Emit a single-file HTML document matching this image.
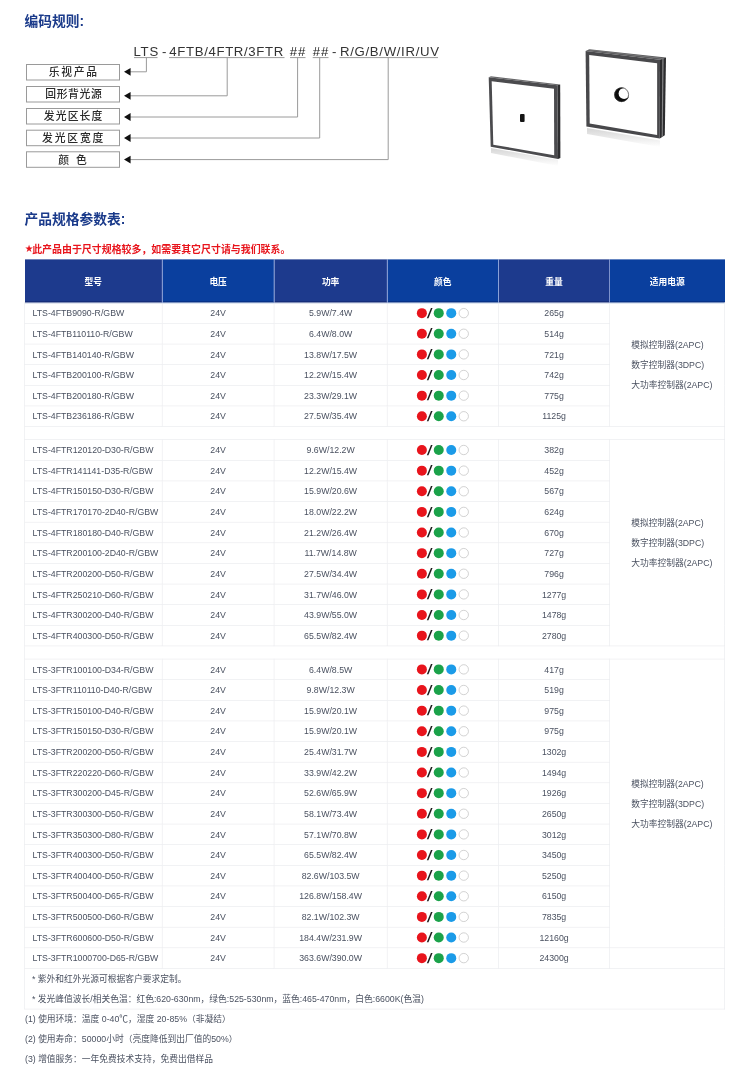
<!DOCTYPE html>
<html lang="zh-CN">
<head>
<meta charset="utf-8">
<title>LTS 回形背光源 产品规格参数表</title>
<style>
html,body{margin:0;padding:0;background:#fff;}
body{width:750px;height:1079px;overflow:hidden;position:relative;font-family:"Liberation Sans","Noto Sans CJK SC",sans-serif;}
#top{position:absolute;left:0;top:0;width:750px;height:200px;}
#top text{font-family:"Liberation Sans","Noto Sans CJK SC",sans-serif;}
#page{position:absolute;left:0;top:0;width:1200px;height:1727px;transform:scale(0.625);transform-origin:0 0;}
.h1{position:absolute;left:39px;font-size:22px;font-weight:bold;color:#1a3a8a;line-height:26px;white-space:nowrap;margin:0;}
.red{position:absolute;left:40px;top:385.5px;font-size:15.9px;font-weight:bold;color:#e8141c;line-height:24px;white-space:nowrap;margin:0;}
table.spec{position:absolute;left:39px;top:415px;width:1120px;border-collapse:collapse;table-layout:fixed;font-size:14px;color:#4a5160;}
table.spec th{height:69px;padding:0;color:#fff;font-size:14px;font-weight:bold;border-left:1px solid #b9c8f2;text-align:center;}
table.spec th:first-child{border-left:none;}
table.spec th{box-shadow:inset 0 -2px 0 rgba(0,0,50,0.28);}
table.spec th:nth-child(odd){background:#1d3a8d;}
table.spec th:nth-child(even){background:#0a3f9e;}
table.spec td{height:32px;padding:0;border:1px solid #e9eaed;line-height:16px;}
td.m{padding-left:12px !important;text-align:left;}
td.c{text-align:center;}
tr.sp td{height:20px;}
tr.notes td{height:64px;padding-left:11px;}
tr.notes p{margin:0;line-height:32px;}
td.psu{text-align:left !important;padding-left:34px !important;}
td.psu p{margin:0;line-height:32px;font-size:14px;}
.dots{display:inline-block;white-space:nowrap;vertical-align:middle;font-size:0;position:relative;left:-0.5px;top:-1px;}
.d{display:inline-block;width:16px;height:16px;border-radius:50%;vertical-align:middle;box-sizing:border-box;}
.d.r{background:#e8141c;position:relative;left:0.8px;}
.d.g{background:#1ba24a;margin-left:0;}
.d.b{background:#1b9be8;margin-left:4px;}
.d.w{background:#fff;border:1.5px solid #b9b9b9;margin-left:4px;}
.sl{display:inline-block;font-size:22px;font-weight:bold;color:#1a1a1a;vertical-align:middle;width:12px;text-align:center;line-height:16px;transform:skewX(-12deg) translate(-0.5px,0.5px);}
.star{display:inline-block;font-size:13px;width:11.5px;vertical-align:2px;}
.foot{position:absolute;left:40px;font-size:14px;color:#4a5160;line-height:20px;white-space:nowrap;margin:0;}
</style>
</head>
<body>
<svg id="top" viewBox="0 0 750 200">
<!-- coding diagram -->
<g fill="none" stroke="#9a9a9a" stroke-width="1">
<rect x="26.5" y="64.5" width="93" height="15.5" fill="#fff"/>
<rect x="26.5" y="86.5" width="93" height="15.5" fill="#fff"/>
<rect x="26.5" y="108.5" width="93" height="15.5" fill="#fff"/>
<rect x="26.5" y="130.2" width="93" height="15.5" fill="#fff"/>
<rect x="26.5" y="151.8" width="93" height="15.5" fill="#fff"/>
<path d="M134 57.6H157.5M169 57.6H284.5M290 57.6H305.5M312.7 57.6H328.5M339.5 57.6H438"/>
<path d="M146.4 57.6V71.8H130M227.2 57.6V95.8H130M297.6 57.6V117H130M319.7 57.6V138H130M388.2 57.6V159.6H130"/>
</g>
<g fill="#111">
<path d="M124 71.8l6.6-3.9v7.8zM124 95.8l6.6-3.9v7.8zM124 117l6.6-3.9v7.8zM124 138l6.6-3.9v7.8zM124 159.6l6.6-3.9v7.8z"/>
</g>
<g font-size="13.2" fill="#333" letter-spacing="0.75">
<text x="133.5" y="55.9">LTS</text>
<text x="162" y="55.9">-</text>
<text x="169.3" y="55.9" letter-spacing="0.65">4FTB/4FTR/3FTR</text>
<text x="289.8" y="55.9" fill="#1a1a1a">##</text>
<text x="312.8" y="55.9" fill="#1a1a1a">##</text>
<text x="332" y="55.9">-</text>
<text x="340" y="55.9" letter-spacing="0.68">R/G/B/W/IR/UV</text>
</g>
<g font-size="10.8" fill="#2a2a2a" font-weight="500" text-anchor="middle">
<text x="73.7" y="76.2" letter-spacing="1.7">乐视产品</text>
<text x="73.8" y="98.2" letter-spacing="0.6">回形背光源</text>
<text x="73.6" y="120.2" letter-spacing="1.1">发光区长度</text>
<text x="73.6" y="141.8" letter-spacing="1.8">发光区宽度</text>
<text x="76" y="163.5" letter-spacing="7">颜色</text>
</g>
<!-- product images -->
<defs>
<linearGradient id="refl" x1="0" y1="0" x2="0" y2="1"><stop offset="0" stop-color="#c4c4c4"/><stop offset="1" stop-color="#ffffff"/></linearGradient>
</defs>
<g>
<polygon points="491,148 558,160 558,166 491,153" fill="url(#refl)" opacity="0.7"/>
<polygon points="488.7,77.3 491,76.2 560.2,84.4 557.3,85.3" fill="#6a6a6c"/>
<polygon points="557.3,85.3 560.2,84.4 560.4,158 558,158.9" fill="#2e2e30"/>
<polygon points="488.7,77.3 557.3,85.3 558,158.9 490.7,146.7" fill="#4b4b4e"/>
<polygon points="491.7,81.3 554,88.7 554.2,155.3 493.3,144.7" fill="#fff"/>
<rect x="520" y="114" width="4.6" height="8" rx="1" fill="#151515"/>
</g>
<g>
<polygon points="587,128 660,140.5 660,147 587,134" fill="url(#refl)" opacity="0.7"/>
<polygon points="585.6,51 589.5,49.2 666,57.6 660,59.8" fill="#5c5c5e"/>
<polygon points="587.6,50.1 588.4,49.7 664,58.3 663,58.7" fill="#8a8a8c"/>
<polygon points="660,59.8 666,57.6 664.8,135.3 659.8,138.6" fill="#2c2c2e"/>
<polygon points="662.3,59 663.6,58.5 662.8,136.6 661.7,137.3" fill="#858587"/>
<polygon points="585.6,51 660,59.8 659.8,138.6 586.4,126.5" fill="#48484b"/>
<polygon points="589.2,55.1 657.1,63.2 657.1,135 589.7,123.6" fill="#fff"/>
<circle cx="621.6" cy="94.7" r="7.3" fill="#0d0d0d"/>
<circle cx="624.1" cy="93.4" r="5.5" fill="#fff"/>
<circle cx="621.6" cy="94.7" r="7" fill="none" stroke="#3a3a3a" stroke-width="0.7"/>
</g>
</svg>
<div id="page">
<p class="h1" style="top:21.5px">编码规则:</p>
<p class="h1" style="top:337.5px">产品规格参数表:</p>
<p class="red"><span class="star">★</span>此产品由于尺寸规格较多，如需要其它尺寸请与我们联系。</p>
<table class="spec" cellspacing="0" cellpadding="0">
<colgroup><col style="width:220px"><col style="width:179px"><col style="width:181px"><col style="width:178px"><col style="width:178px"><col style="width:184px"></colgroup>
<thead><tr><th>型号</th><th>电压</th><th>功率</th><th>颜色</th><th>重量</th><th>适用电源</th></tr></thead>
<tbody>
<tr><td class="m">LTS-4FTB9090-R/GBW</td><td class="c">24V</td><td class="c">5.9W/7.4W</td><td class="c"><span class="dots"><i class="d r"></i><b class="sl">/</b><i class="d g"></i><i class="d b"></i><i class="d w"></i></span></td><td class="c">265g</td><td class="c psu" rowspan="6"><p>模拟控制器(2APC)</p><p>数字控制器(3DPC)</p><p>大功率控制器(2APC)</p></td></tr>
<tr><td class="m">LTS-4FTB110110-R/GBW</td><td class="c">24V</td><td class="c">6.4W/8.0W</td><td class="c"><span class="dots"><i class="d r"></i><b class="sl">/</b><i class="d g"></i><i class="d b"></i><i class="d w"></i></span></td><td class="c">514g</td></tr>
<tr><td class="m">LTS-4FTB140140-R/GBW</td><td class="c">24V</td><td class="c">13.8W/17.5W</td><td class="c"><span class="dots"><i class="d r"></i><b class="sl">/</b><i class="d g"></i><i class="d b"></i><i class="d w"></i></span></td><td class="c">721g</td></tr>
<tr><td class="m">LTS-4FTB200100-R/GBW</td><td class="c">24V</td><td class="c">12.2W/15.4W</td><td class="c"><span class="dots"><i class="d r"></i><b class="sl">/</b><i class="d g"></i><i class="d b"></i><i class="d w"></i></span></td><td class="c">742g</td></tr>
<tr><td class="m">LTS-4FTB200180-R/GBW</td><td class="c">24V</td><td class="c">23.3W/29.1W</td><td class="c"><span class="dots"><i class="d r"></i><b class="sl">/</b><i class="d g"></i><i class="d b"></i><i class="d w"></i></span></td><td class="c">775g</td></tr>
<tr><td class="m">LTS-4FTB236186-R/GBW</td><td class="c">24V</td><td class="c">27.5W/35.4W</td><td class="c"><span class="dots"><i class="d r"></i><b class="sl">/</b><i class="d g"></i><i class="d b"></i><i class="d w"></i></span></td><td class="c">1125g</td></tr>
<tr class="sp"><td colspan="6"></td></tr>
<tr><td class="m">LTS-4FTR120120-D30-R/GBW</td><td class="c">24V</td><td class="c">9.6W/12.2W</td><td class="c"><span class="dots"><i class="d r"></i><b class="sl">/</b><i class="d g"></i><i class="d b"></i><i class="d w"></i></span></td><td class="c">382g</td><td class="c psu" rowspan="10"><p>模拟控制器(2APC)</p><p>数字控制器(3DPC)</p><p>大功率控制器(2APC)</p></td></tr>
<tr><td class="m">LTS-4FTR141141-D35-R/GBW</td><td class="c">24V</td><td class="c">12.2W/15.4W</td><td class="c"><span class="dots"><i class="d r"></i><b class="sl">/</b><i class="d g"></i><i class="d b"></i><i class="d w"></i></span></td><td class="c">452g</td></tr>
<tr><td class="m">LTS-4FTR150150-D30-R/GBW</td><td class="c">24V</td><td class="c">15.9W/20.6W</td><td class="c"><span class="dots"><i class="d r"></i><b class="sl">/</b><i class="d g"></i><i class="d b"></i><i class="d w"></i></span></td><td class="c">567g</td></tr>
<tr><td class="m">LTS-4FTR170170-2D40-R/GBW</td><td class="c">24V</td><td class="c">18.0W/22.2W</td><td class="c"><span class="dots"><i class="d r"></i><b class="sl">/</b><i class="d g"></i><i class="d b"></i><i class="d w"></i></span></td><td class="c">624g</td></tr>
<tr><td class="m">LTS-4FTR180180-D40-R/GBW</td><td class="c">24V</td><td class="c">21.2W/26.4W</td><td class="c"><span class="dots"><i class="d r"></i><b class="sl">/</b><i class="d g"></i><i class="d b"></i><i class="d w"></i></span></td><td class="c">670g</td></tr>
<tr><td class="m">LTS-4FTR200100-2D40-R/GBW</td><td class="c">24V</td><td class="c">11.7W/14.8W</td><td class="c"><span class="dots"><i class="d r"></i><b class="sl">/</b><i class="d g"></i><i class="d b"></i><i class="d w"></i></span></td><td class="c">727g</td></tr>
<tr><td class="m">LTS-4FTR200200-D50-R/GBW</td><td class="c">24V</td><td class="c">27.5W/34.4W</td><td class="c"><span class="dots"><i class="d r"></i><b class="sl">/</b><i class="d g"></i><i class="d b"></i><i class="d w"></i></span></td><td class="c">796g</td></tr>
<tr><td class="m">LTS-4FTR250210-D60-R/GBW</td><td class="c">24V</td><td class="c">31.7W/46.0W</td><td class="c"><span class="dots"><i class="d r"></i><b class="sl">/</b><i class="d g"></i><i class="d b"></i><i class="d w"></i></span></td><td class="c">1277g</td></tr>
<tr><td class="m">LTS-4FTR300200-D40-R/GBW</td><td class="c">24V</td><td class="c">43.9W/55.0W</td><td class="c"><span class="dots"><i class="d r"></i><b class="sl">/</b><i class="d g"></i><i class="d b"></i><i class="d w"></i></span></td><td class="c">1478g</td></tr>
<tr><td class="m">LTS-4FTR400300-D50-R/GBW</td><td class="c">24V</td><td class="c">65.5W/82.4W</td><td class="c"><span class="dots"><i class="d r"></i><b class="sl">/</b><i class="d g"></i><i class="d b"></i><i class="d w"></i></span></td><td class="c">2780g</td></tr>
<tr class="sp"><td colspan="6"></td></tr>
<tr><td class="m">LTS-3FTR100100-D34-R/GBW</td><td class="c">24V</td><td class="c">6.4W/8.5W</td><td class="c"><span class="dots"><i class="d r"></i><b class="sl">/</b><i class="d g"></i><i class="d b"></i><i class="d w"></i></span></td><td class="c">417g</td><td class="c psu" rowspan="14"><p>模拟控制器(2APC)</p><p>数字控制器(3DPC)</p><p>大功率控制器(2APC)</p></td></tr>
<tr><td class="m">LTS-3FTR110110-D40-R/GBW</td><td class="c">24V</td><td class="c">9.8W/12.3W</td><td class="c"><span class="dots"><i class="d r"></i><b class="sl">/</b><i class="d g"></i><i class="d b"></i><i class="d w"></i></span></td><td class="c">519g</td></tr>
<tr><td class="m">LTS-3FTR150100-D40-R/GBW</td><td class="c">24V</td><td class="c">15.9W/20.1W</td><td class="c"><span class="dots"><i class="d r"></i><b class="sl">/</b><i class="d g"></i><i class="d b"></i><i class="d w"></i></span></td><td class="c">975g</td></tr>
<tr><td class="m">LTS-3FTR150150-D30-R/GBW</td><td class="c">24V</td><td class="c">15.9W/20.1W</td><td class="c"><span class="dots"><i class="d r"></i><b class="sl">/</b><i class="d g"></i><i class="d b"></i><i class="d w"></i></span></td><td class="c">975g</td></tr>
<tr><td class="m">LTS-3FTR200200-D50-R/GBW</td><td class="c">24V</td><td class="c">25.4W/31.7W</td><td class="c"><span class="dots"><i class="d r"></i><b class="sl">/</b><i class="d g"></i><i class="d b"></i><i class="d w"></i></span></td><td class="c">1302g</td></tr>
<tr><td class="m">LTS-3FTR220220-D60-R/GBW</td><td class="c">24V</td><td class="c">33.9W/42.2W</td><td class="c"><span class="dots"><i class="d r"></i><b class="sl">/</b><i class="d g"></i><i class="d b"></i><i class="d w"></i></span></td><td class="c">1494g</td></tr>
<tr><td class="m">LTS-3FTR300200-D45-R/GBW</td><td class="c">24V</td><td class="c">52.6W/65.9W</td><td class="c"><span class="dots"><i class="d r"></i><b class="sl">/</b><i class="d g"></i><i class="d b"></i><i class="d w"></i></span></td><td class="c">1926g</td></tr>
<tr><td class="m">LTS-3FTR300300-D50-R/GBW</td><td class="c">24V</td><td class="c">58.1W/73.4W</td><td class="c"><span class="dots"><i class="d r"></i><b class="sl">/</b><i class="d g"></i><i class="d b"></i><i class="d w"></i></span></td><td class="c">2650g</td></tr>
<tr><td class="m">LTS-3FTR350300-D80-R/GBW</td><td class="c">24V</td><td class="c">57.1W/70.8W</td><td class="c"><span class="dots"><i class="d r"></i><b class="sl">/</b><i class="d g"></i><i class="d b"></i><i class="d w"></i></span></td><td class="c">3012g</td></tr>
<tr><td class="m">LTS-3FTR400300-D50-R/GBW</td><td class="c">24V</td><td class="c">65.5W/82.4W</td><td class="c"><span class="dots"><i class="d r"></i><b class="sl">/</b><i class="d g"></i><i class="d b"></i><i class="d w"></i></span></td><td class="c">3450g</td></tr>
<tr><td class="m">LTS-3FTR400400-D50-R/GBW</td><td class="c">24V</td><td class="c">82.6W/103.5W</td><td class="c"><span class="dots"><i class="d r"></i><b class="sl">/</b><i class="d g"></i><i class="d b"></i><i class="d w"></i></span></td><td class="c">5250g</td></tr>
<tr><td class="m">LTS-3FTR500400-D65-R/GBW</td><td class="c">24V</td><td class="c">126.8W/158.4W</td><td class="c"><span class="dots"><i class="d r"></i><b class="sl">/</b><i class="d g"></i><i class="d b"></i><i class="d w"></i></span></td><td class="c">6150g</td></tr>
<tr><td class="m">LTS-3FTR500500-D60-R/GBW</td><td class="c">24V</td><td class="c">82.1W/102.3W</td><td class="c"><span class="dots"><i class="d r"></i><b class="sl">/</b><i class="d g"></i><i class="d b"></i><i class="d w"></i></span></td><td class="c">7835g</td></tr>
<tr><td class="m">LTS-3FTR600600-D50-R/GBW</td><td class="c">24V</td><td class="c">184.4W/231.9W</td><td class="c"><span class="dots"><i class="d r"></i><b class="sl">/</b><i class="d g"></i><i class="d b"></i><i class="d w"></i></span></td><td class="c">12160g</td></tr>
<tr><td class="m">LTS-3FTR1000700-D65-R/GBW</td><td class="c">24V</td><td class="c">363.6W/390.0W</td><td class="c"><span class="dots"><i class="d r"></i><b class="sl">/</b><i class="d g"></i><i class="d b"></i><i class="d w"></i></span></td><td class="c">24300g</td><td class="c"></td></tr>
<tr class="notes"><td colspan="6"><p>* 紫外和红外光源可根据客户要求定制。</p><p>* 发光峰值波长/相关色温：红色:620-630nm，绿色:525-530nm，蓝色:465-470nm，白色:6600K(色温)</p></td></tr>
</tbody></table>
<p class="foot" style="top:1620px">(1) 使用环境：温度 0-40℃，湿度 20-85%（非凝结）</p>
<p class="foot" style="top:1652px">(2) 使用寿命：50000小时（亮度降低到出厂值的50%）</p>
<p class="foot" style="top:1683.5px">(3) 增值服务：一年免费技术支持，免费出借样品</p>
</div>
</body>
</html>
